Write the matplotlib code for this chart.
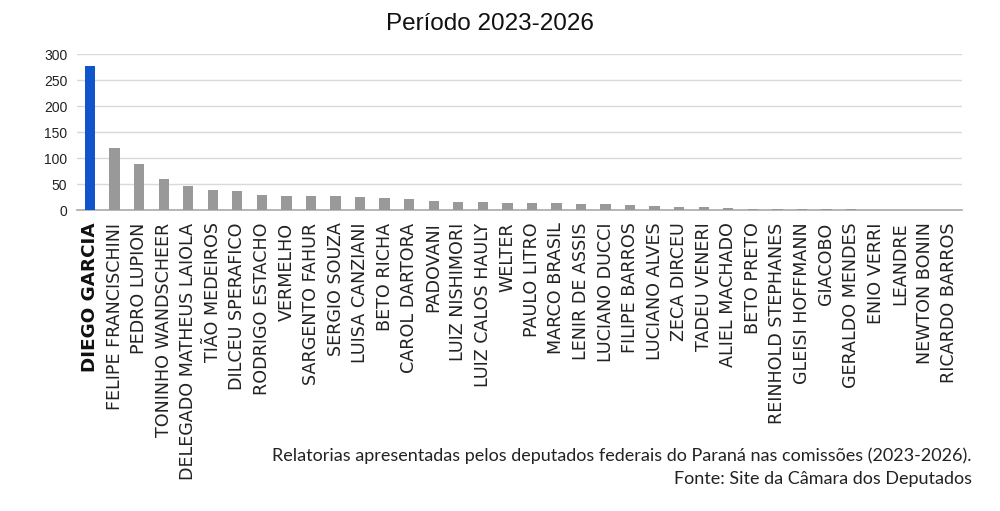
import matplotlib
matplotlib.use("Agg")
import matplotlib.pyplot as plt

names = ["DIEGO GARCIA", "FELIPE FRANCISCHINI", "PEDRO LUPION", "TONINHO WANDSCHEER",
         "DELEGADO MATHEUS LAIOLA", "TIÃO MEDEIROS", "DILCEU SPERAFICO", "RODRIGO ESTACHO",
         "VERMELHO", "SARGENTO FAHUR", "SERGIO SOUZA", "LUISA CANZIANI", "BETO RICHA",
         "CAROL DARTORA", "PADOVANI", "LUIZ NISHIMORI", "LUIZ CALOS HAULY", "WELTER",
         "PAULO LITRO", "MARCO BRASIL", "LENIR DE ASSIS", "LUCIANO DUCCI", "FILIPE BARROS",
         "LUCIANO ALVES", "ZECA DIRCEU", "TADEU VENERI", "ALIEL MACHADO", "BETO PRETO",
         "REINHOLD STEPHANES", "GLEISI HOFFMANN", "GIACOBO", "GERALDO MENDES", "ENIO VERRI",
         "LEANDRE", "NEWTON BONIN", "RICARDO BARROS"]
relatorias = [277, 120, 88, 60, 47, 39, 37, 28, 27, 26, 26, 25, 24, 21, 18, 16, 16, 14,
              14, 14, 12, 12, 9, 8, 6, 5, 4, 2, 2, 2, 2, 2, 0, 0, 0, 0]
yticks = [0, 50, 100, 150, 200, 250, 300]
title = "Período 2023-2026"
footer1 = "Relatorias apresentadas pelos deputados federais do Paraná nas comissões (2023-2026)."
footer2 = "Fonte: Site da Câmara dos Deputados"

fig = plt.figure(figsize=(10, 5.11), dpi=100)
ax = fig.add_axes([0.077, 1 - 210 / 511, 0.962 - 0.077, (210 - 54) / 511])

colors = ["#1155cc"] + ["#999999"] * (len(names) - 1)
x = list(range(len(names)))
ax.bar(x, relatorias, width=0.42, color=colors, zorder=3)

ax.set_ylim(0, 300)
ax.set_xlim(-0.53, len(names) - 0.48)
ax.set_yticks(yticks)
ax.set_yticklabels([str(v) for v in yticks], fontfamily="Liberation Sans", fontsize=10, color="#222222")
ax.yaxis.grid(True, color="#d9d9d9", linewidth=1, zorder=0)
ax.set_axisbelow(True)
for s in ["top", "right", "left"]:
    ax.spines[s].set_visible(False)
ax.spines["bottom"].set_color("#aaaaaa")
ax.spines["bottom"].set_linewidth(1.2)
ax.tick_params(axis="y", length=0, pad=7)
ax.tick_params(axis="x", length=0, pad=9)

ax.set_xticks(x)
ax.set_xticklabels(names, rotation=90, ha="center", va="top", fontfamily="DejaVu Sans",
                   fontsize=11, color="#222222")
lbl0 = ax.get_xticklabels()[0]
lbl0.set_fontweight("bold")
lbl0.set_fontsize(12.5)
lbl0.set_color("#111111")

# fit label font size so the longest labels span about as far as in the reference
renderer = fig.canvas.get_renderer()
ref_lbl = ax.get_xticklabels()[4]
h = ref_lbl.get_window_extent(renderer).height
scale = 256.0 / h
for i, t in enumerate(ax.get_xticklabels()):
    if i == 0:
        h0 = t.get_window_extent(renderer).height
        t.set_fontsize(t.get_fontsize() * 150.0 / h0)
    else:
        t.set_fontsize(11 * scale)

fig.text(0.49, 1 - 24 / 511, title, ha="center", va="center",
         fontfamily="Liberation Sans", fontsize=17.5, color="#111111")
fig.text(0.972, 1 - 456 / 511, footer1, ha="right", va="center",
         fontfamily="Lato", fontsize=13, color="#222222")
fig.text(0.972, 1 - 479 / 511, footer2, ha="right", va="center",
         fontfamily="Lato", fontsize=13, color="#222222")

fig.savefig("out.png", dpi=100, facecolor="white")
